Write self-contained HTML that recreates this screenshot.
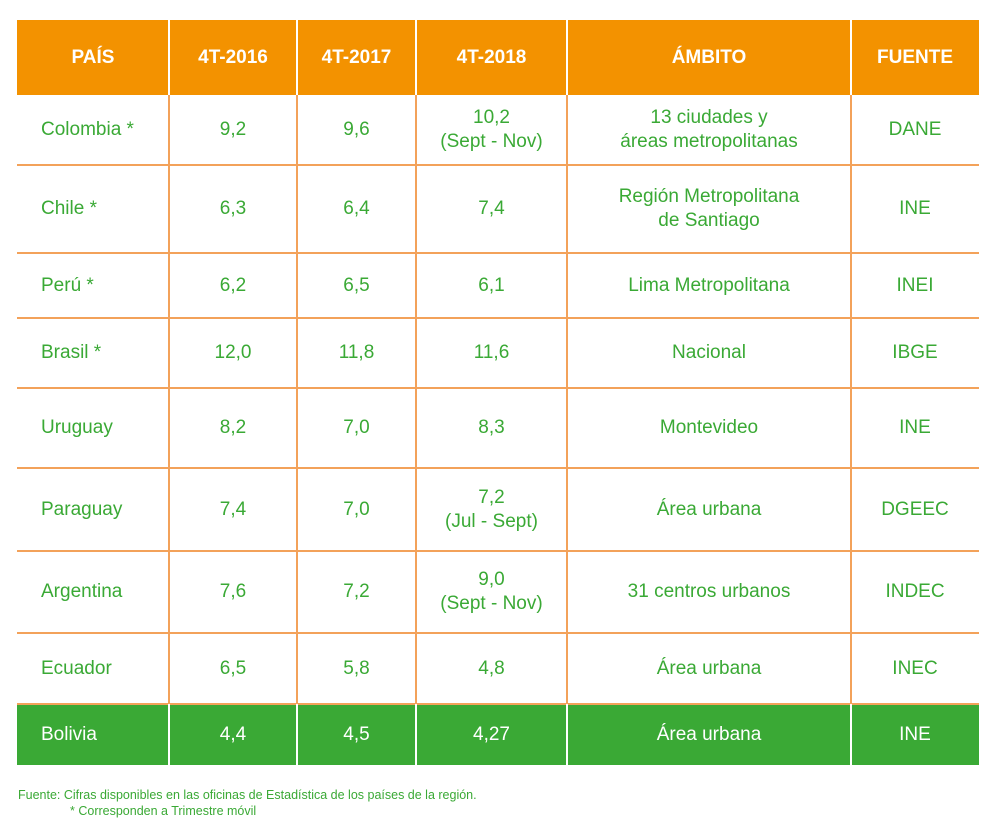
<!DOCTYPE html>
<html><head><meta charset="utf-8"><style>
body{margin:0;width:1000px;height:834px;background:#fff;position:relative;font-family:"Liberation Sans",sans-serif;overflow:hidden}
.c{position:absolute;display:flex;align-items:center;justify-content:center;text-align:center;box-sizing:border-box;font-size:19px;line-height:24px;color:#3aa935}
.h{background:#f39200;color:#fff;font-weight:bold;font-size:19px}
.g{background:#3aa935;color:#fff}
.l{justify-content:flex-start;padding-left:24px}
.vl{position:absolute;width:2px;background:#f3a25a}
.hl{position:absolute;height:2px;background:#f3a25a;left:17px;width:962px}
.foot{position:absolute;left:18px;font-size:12.5px;color:#3aa935}
</style></head><body>
<div id="t"></div>
<div class="foot" style="top:788px">Fuente: Cifras disponibles en las oficinas de Estadística de los países de la región.</div>
<div class="foot" style="top:804px;left:70px">* Corresponden a Trimestre móvil</div>
<script>
const cols=[17,169,297,416,567,851,979];
const rows=[20,95,165,253,318,388,468,551,633,704,765];
const header=["PAÍS","4T-2016","4T-2017","4T-2018","ÁMBITO","FUENTE"];
const data=[
["Colombia *","9,2","9,6","10,2<br>(Sept - Nov)","13 ciudades y<br>áreas metropolitanas","DANE"],
["Chile *","6,3","6,4","7,4","Región Metropolitana<br>de Santiago","INE"],
["Perú *","6,2","6,5","6,1","Lima Metropolitana","INEI"],
["Brasil *","12,0","11,8","11,6","Nacional","IBGE"],
["Uruguay","8,2","7,0","8,3","Montevideo","INE"],
["Paraguay","7,4","7,0","7,2<br>(Jul - Sept)","Área urbana","DGEEC"],
["Argentina","7,6","7,2","9,0<br>(Sept - Nov)","31 centros urbanos","INDEC"],
["Ecuador","6,5","5,8","4,8","Área urbana","INEC"],
["Bolivia","4,4","4,5","4,27","Área urbana","INE"]];
const t=document.getElementById('t');
function cell(r,c,html,cls){
 const d=document.createElement('div');
 d.className='c '+cls;
 d.style.left=cols[c]+'px';d.style.width=(cols[c+1]-cols[c])+'px';
 d.style.top=rows[r]+'px';d.style.height=(rows[r+1]-rows[r])+'px';
 d.innerHTML=html;
 
 
 t.appendChild(d);
}
header.forEach((h,c)=>cell(0,c,h,'h'));
data.forEach((row,i)=>row.forEach((v,c)=>cell(i+1,c,v,(i==8?'g ':'')+(c==0?'l':''))));
for(let r=2;r<rows.length-1;r++){const d=document.createElement('div');d.className='hl';d.style.top=(rows[r]-1)+'px';


t.appendChild(d);}
for(let c=1;c<cols.length-1;c++){const d=document.createElement('div');d.className='vl';d.style.left=(cols[c]-1)+'px';d.style.top=rows[0]+'px';d.style.height=(rows[rows.length-1]-rows[0])+'px';


t.appendChild(d);}
// white dividers on colored rows
[[0,1],[9,10]].forEach(([a,b])=>{for(let c=1;c<cols.length-1;c++){const d=document.createElement('div');d.className='vl';d.style.background='#fff';d.style.left=(cols[c]-1)+'px';d.style.top=rows[a]+'px';d.style.height=(rows[b]-rows[a])+'px';


t.appendChild(d);}});
</script>
</body></html>
